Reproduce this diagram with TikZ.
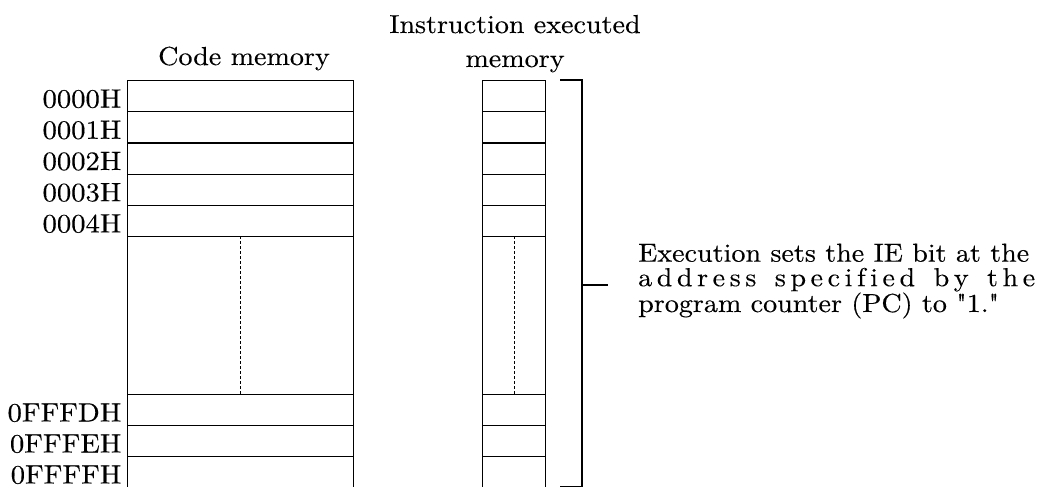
\documentclass[tikz,border=0pt]{standalone}
\usepackage{fontspec}
\newfontfamily\mf{lmroman10}[Extension=.otf, UprightFont=*-regular, FakeStretch=1.08, FakeBold=0.25]
\begin{document}
\begin{tikzpicture}[x=1pt,y=-1pt,
  cell/.style={draw, line width=1.2pt, inner sep=0pt, anchor=north west},
  lab/.style={inner sep=0pt, anchor=base east, font=\mf\fontsize{26.5}{27}\selectfont},
  ttl/.style={inner sep=0pt, font=\mf\fontsize{26}{34}\selectfont, align=center},
  ln/.style={line width=1.2pt},
  dsh/.style={line width=0.9pt, dash pattern=on 3pt off 2pt}]
\useasboundingbox (0,0) rectangle (1049,487);
% code memory cells
\foreach \n/\y in {0/80,1/111.2,2/142.4,3/173.6,4/204.8}{
  \node[cell, minimum width=226pt, minimum height=31.2pt] (c\n) at (127,\y) {};
  \node[cell, minimum width=63pt, minimum height=31.2pt] (i\n) at (482,\y) {};
}
\node[cell, minimum width=226pt, minimum height=158pt] (cm) at (127,236) {};
\node[cell, minimum width=63pt, minimum height=158pt] (im) at (482,236) {};
\foreach \n/\y in {D/394,E/425,F/456}{
  \node[cell, minimum width=226pt, minimum height=31pt] (c\n) at (127,\y) {};
  \node[cell, minimum width=63pt, minimum height=31pt] (i\n) at (482,\y) {};
}
% dashed lines
\draw[dsh] (cm.north) -- (cm.south);
\draw[dsh] (im.north) -- (im.south);
% labels
\node[lab] (l0) at ([xshift=-5.5pt,yshift=-11.4pt]c0.west) {0000H};
\node[lab] (l1) at ([xshift=-5.5pt,yshift=-11.4pt]c1.west) {0001H};
\node[lab] (l2) at ([xshift=-5.5pt,yshift=-11.4pt]c2.west) {0002H};
\node[lab] (l3) at ([xshift=-5.5pt,yshift=-11.4pt]c3.west) {0003H};
\node[lab] (l4) at ([xshift=-5.5pt,yshift=-11.4pt]c4.west) {0004H};
\node[lab] (lD) at ([xshift=-5.5pt,yshift=-11.4pt]cD.west) {0FFFDH};
\node[lab] (lE) at ([xshift=-5.5pt,yshift=-11.4pt]cE.west) {0FFFEH};
\node[lab] (lF) at ([xshift=-5.5pt,yshift=-11.4pt]cF.west) {0FFFFH};
% titles
\node[ttl, anchor=base] (tc) at (244,65) {Code memory};
\node[ttl, anchor=base] (ti) at (515,67) {Instruction executed\\memory};
% bracket
\coordinate (bt) at (560,80);
\coordinate (bb) at (560,486.5);
\coordinate (bm) at (582,285);
\coordinate (be) at (608,285);
\draw[ln] (bt) -| (bm) |- (bb);
\draw[ln] (bm) -- (be);
% note
\node[inner sep=0pt, anchor=base west, align=left, font=\mf\fontsize{26}{24.5}\selectfont] (note) at (638,312)
 {Execution sets the IE bit at the\\
  \makebox[397pt][s]{a\hfill d\hfill d\hfill r\hfill e\hfill s\hfill s\hfill\ \hfill s\hfill p\hfill e\hfill c\hfill i\hfill f\hfill i\hfill e\hfill d\hfill\ \hfill b\hfill y\hfill\ \hfill t\hfill h\hfill e}\\
  program counter (PC) to "1."};
\end{tikzpicture}
\end{document}
